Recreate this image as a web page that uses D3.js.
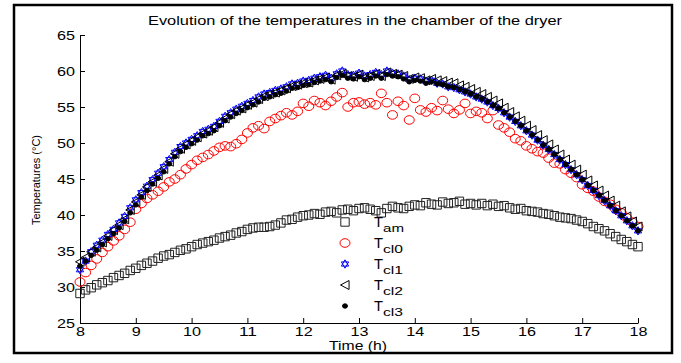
<!DOCTYPE html>
<html>
<head>
<meta charset="utf-8">
<script src="https://cdn.jsdelivr.net/npm/d3@7"></script>
<style>
  body { margin: 0; background: #fff; }
  text { font-family: "Liberation Sans", Arial, sans-serif; fill: #000; }
</style>
</head>
<body>
<div id="chart"></div>
<script>
// sampling times (h)
const times = [
  8.0, 8.1, 8.2, 8.3, 8.4, 8.5, 8.6, 8.7, 8.8, 8.9,
  9.0, 9.1, 9.2, 9.3, 9.4, 9.5, 9.6, 9.7, 9.8, 9.9,
  10.0, 10.1, 10.2, 10.3, 10.4, 10.5, 10.6, 10.7, 10.8, 10.9,
  11.0, 11.1, 11.2, 11.3, 11.4, 11.5, 11.6, 11.7, 11.8, 11.9,
  12.0, 12.1, 12.2, 12.3, 12.4, 12.5, 12.6, 12.7, 12.8, 12.9,
  13.0, 13.1, 13.2, 13.3, 13.4, 13.5, 13.6, 13.7, 13.8, 13.9,
  14.0, 14.1, 14.2, 14.3, 14.4, 14.5, 14.6, 14.7, 14.8, 14.9,
  15.0, 15.1, 15.2, 15.3, 15.4, 15.5, 15.6, 15.7, 15.8, 15.9,
  16.0, 16.1, 16.2, 16.3, 16.4, 16.5, 16.6, 16.7, 16.8, 16.9,
  17.0, 17.1, 17.2, 17.3, 17.4, 17.5, 17.6, 17.7, 17.8, 17.9,
  18.0
];

// ambient temperature
const tAm = [
  29.1, 29.6, 29.9, 30.3, 30.6, 30.9, 31.3, 31.6, 31.9, 32.3,
  32.6, 33.0, 33.3, 33.6, 34.0, 34.3, 34.5, 34.8, 35.1, 35.3,
  35.6, 35.9, 36.1, 36.3, 36.5, 36.8, 37.0, 37.2, 37.5, 37.7,
  38.0, 38.2, 38.3, 38.3, 38.4, 38.6, 38.9, 39.3, 39.4, 39.7,
  39.9, 40.0, 40.2, 40.1, 40.4, 40.5, 40.3, 40.7, 40.8, 40.6,
  40.9, 41.0, 40.8, 40.6, 40.3, 40.9, 41.2, 41.0, 40.9, 41.2,
  41.4, 41.3, 41.7, 41.5, 41.4, 41.8, 41.6, 41.7, 41.9, 41.5,
  41.6, 41.4, 41.6, 41.3, 41.5, 41.2, 41.3, 41.0, 40.8, 40.9,
  40.6, 40.5, 40.4, 40.2, 40.1, 39.9, 39.7, 39.6, 39.5, 39.3,
  39.1, 38.8, 38.4, 38.1, 37.8, 37.4, 37.0, 36.6, 36.3, 35.9,
  35.6
];

const tCl0 = [
  30.7, 32.0, 33.0, 33.9, 34.8, 35.6, 36.4, 37.1, 38.0, 39.0,
  40.8, 41.6, 42.3, 42.8, 43.3, 43.9, 44.6, 45.0, 45.6, 46.4,
  47.0, 47.6, 48.0, 48.4, 48.9, 49.4, 49.6, 49.5, 49.9, 50.5,
  51.4, 52.1, 52.4, 52.0, 53.0, 53.4, 53.8, 54.2, 53.9, 54.4,
  55.5, 55.1, 55.9, 55.6, 55.2, 55.8, 56.4, 57.0, 55.0, 55.6,
  55.7, 55.4, 55.6, 55.3, 56.9, 55.6, 53.9, 55.8, 55.2, 53.2,
  56.2, 54.6, 54.3, 54.9, 54.5, 55.9, 54.7, 54.1, 54.6, 55.5,
  54.1, 54.4, 54.2, 53.4, 54.5, 52.5, 52.1, 51.5, 50.6, 50.3,
  49.6, 49.2, 48.8, 48.6, 47.9, 47.2, 47.1, 46.3, 45.8, 45.2,
  44.2, 43.7, 43.3, 42.5, 41.9, 41.5, 40.8, 40.3, 39.6, 39.0,
  38.4
];

const tCl1 = [
  32.4, 33.6, 34.9, 35.8, 36.5, 37.3, 38.0, 38.9, 39.8, 41.0,
  42.1, 43.1, 44.0, 44.9, 45.8, 46.7, 47.7, 48.7, 49.5, 50.0,
  50.5, 51.0, 51.6, 51.9, 52.3, 53.0, 53.7, 54.2, 54.7, 55.1,
  55.5, 55.9, 56.4, 56.8, 57.0, 57.3, 57.5, 57.8, 58.2, 58.3,
  58.6, 58.7, 59.0, 59.2, 59.4, 59.0, 59.6, 60.0, 59.5, 59.4,
  59.7, 59.3, 59.5, 59.8, 59.5, 60.0, 59.7, 59.6, 59.3, 58.8,
  59.0, 58.9, 58.6, 58.7, 58.3, 58.2, 57.8, 57.7, 57.4, 57.1,
  56.8, 56.4, 56.1, 55.7, 55.2, 54.8, 54.2, 53.6, 53.0, 52.4,
  51.7, 51.1, 50.4, 49.7, 49.1, 48.4, 47.7, 47.0, 46.3, 45.6,
  44.9, 44.1, 43.4, 42.7, 42.0, 41.3, 40.6, 39.9, 39.2, 38.5,
  37.8
];

const tCl2 = [
  33.5, 34.1, 34.9, 35.5, 36.2, 37.1, 37.9, 38.6, 39.4, 40.7,
  41.8, 42.8, 43.9, 44.6, 45.5, 46.4, 47.4, 48.5, 49.2, 49.8,
  50.3, 50.8, 51.3, 51.7, 52.2, 52.8, 53.4, 54.0, 54.5, 54.8,
  55.3, 55.6, 56.1, 56.5, 56.8, 57.0, 57.3, 57.6, 57.9, 58.1,
  58.3, 58.4, 58.7, 58.9, 59.1, 58.8, 59.4, 59.6, 59.3, 59.2,
  59.5, 59.1, 59.3, 59.6, 59.3, 59.8, 59.6, 59.5, 59.3, 58.9,
  59.1, 59.0, 58.7, 58.9, 58.7, 58.6, 58.4, 58.3, 58.0, 57.8,
  57.5, 57.1, 56.8, 56.4, 55.9, 55.5, 54.9, 54.3, 53.7, 53.1,
  52.4, 51.8, 51.1, 50.4, 49.8, 49.1, 48.4, 47.7, 47.0, 46.3,
  45.6, 44.8, 44.1, 43.4, 42.7, 42.0, 41.3, 40.5, 39.8, 39.1,
  38.4
];

const tCl3 = [
  32.9, 33.6, 34.4, 35.1, 35.9, 36.7, 37.4, 38.2, 39.1, 40.3,
  41.4, 42.5, 43.4, 44.3, 45.1, 46.0, 47.1, 48.1, 48.8, 49.4,
  49.9, 50.4, 51.0, 51.3, 51.7, 52.4, 53.1, 53.6, 54.1, 54.5,
  54.9, 55.3, 55.7, 56.2, 56.4, 56.7, 56.9, 57.2, 57.6, 57.7,
  58.0, 58.1, 58.4, 58.6, 58.8, 58.5, 59.1, 59.4, 59.0, 58.9,
  59.2, 58.8, 59.0, 59.3, 59.0, 59.5, 59.3, 59.2, 58.9, 58.5,
  58.7, 58.6, 58.3, 58.5, 58.2, 58.1, 57.8, 57.7, 57.4, 57.1,
  56.8, 56.4, 56.1, 55.7, 55.2, 54.8, 54.2, 53.6, 53.0, 52.4,
  51.7, 51.1, 50.4, 49.7, 49.1, 48.4, 47.7, 47.0, 46.3, 45.6,
  44.9, 44.1, 43.4, 42.7, 42.0, 41.3, 40.6, 39.9, 39.2, 38.5,
  37.8
];

const xTicks = [8, 9, 10, 11, 12, 13, 14, 15, 16, 17, 18];
const yTicks = [25, 30, 35, 40, 45, 50, 55, 60, 65];
const legendSubs = ['am', 'cl0', 'cl1', 'cl2', 'cl3'];

// marker shapes (the original figure is a bit stretched horizontally)
function squarePath(s) { return `M${-s},${-s}H${s}V${s}H${-s}Z`; }
function ellipsePath(rx, ry) { return `M${-rx},0A${rx},${ry} 0 1,0 ${rx},0A${rx},${ry} 0 1,0 ${-rx},0Z`; }
function leftTriPath(s) { return `M${-s},0L${s * 0.9},${-s}L${s * 0.9},${s}Z`; }
function hexagramPath(r) {
  const up = [], down = [];
  for (let k = 0; k < 3; k++) {
    const a1 = -Math.PI / 2 + k * 2 * Math.PI / 3;
    const a2 = Math.PI / 2 + k * 2 * Math.PI / 3;
    up.push([r * Math.cos(a1), r * Math.sin(a1)]);
    down.push([r * Math.cos(a2), r * Math.sin(a2)]);
  }
  const p = pts => 'M' + pts.map(q => q[0].toFixed(2) + ',' + q[1].toFixed(2)).join('L') + 'Z';
  return p(up) + p(down);
}

const series = [
  { values: tAm,  d: squarePath(4.2),       stroke: '#222', fill: 'none' },
  { values: tCl0, d: ellipsePath(5, 4.3),   stroke: '#ff0000', fill: 'none' },
  { values: tCl1, d: hexagramPath(4.2),     stroke: '#0000ff', fill: 'none' },
  { values: tCl2, d: leftTriPath(4.5),      stroke: '#000', fill: 'none' },
  { values: tCl3, d: ellipsePath(2.5, 2.2), stroke: '#000', fill: '#000' }
];

const W = 681, H = 363;
const svg = d3.select('#chart').append('svg')
  .attr('width', W)
  .attr('height', H);

svg.append('rect').attr('width', W).attr('height', H).attr('fill', '#fff');

// outer frame
svg.append('rect')
  .attr('x', 14).attr('y', 5)
  .attr('width', 658).attr('height', 348)
  .attr('fill', 'none')
  .attr('stroke', '#000')
  .attr('stroke-width', 2.5);

// Scales
const x = d3.scaleLinear().domain([8, 18]).range([80, 638]);
const y = d3.scaleLinear().domain([25, 65]).range([323, 35]);

// Axes (ticks pointing inwards, matlab style)
const gx = svg.append('g')
  .attr('transform', `translate(0,${y(25)})`)
  .call(d3.axisBottom(x).tickValues(xTicks).tickSize(-5).tickSizeOuter(0).tickPadding(4));
const gy = svg.append('g')
  .attr('transform', `translate(${x(8)},0)`)
  .call(d3.axisLeft(y).tickValues(yTicks).tickSize(-5).tickSizeOuter(0).tickPadding(5));

[gx, gy].forEach(g => {
  g.selectAll('text')
    .style('font-size', '13px')
    .attr('fill', '#000')
    .attr('lengthAdjust', 'spacingAndGlyphs')
    .attr('textLength', function () { return this.textContent.length * 9; });
  g.selectAll('line, path').attr('stroke', '#000');
});

// Points
series.forEach(s => {
  svg.append('g').selectAll('path')
    .data(s.values)
    .enter()
    .append('path')
    .attr('transform', (v, i) => `translate(${x(times[i])},${y(v)})`)
    .attr('d', s.d)
    .attr('fill', s.fill)
    .attr('stroke', s.stroke)
    .attr('stroke-width', 1);
});

// Legend
const legend = svg.append('g').attr('transform', 'translate(345,222)');
series.forEach((s, i) => {
  const row = legend.append('g').attr('transform', `translate(0,${i * 21})`);
  row.append('path')
    .attr('d', s.d)
    .attr('fill', s.fill)
    .attr('stroke', s.stroke)
    .attr('stroke-width', 1);
  row.append('text').attr('x', 29).attr('y', 4.5)
    .style('font-size', '14px')
    .attr('textLength', 9).attr('lengthAdjust', 'spacingAndGlyphs')
    .text('T');
  row.append('text').attr('x', 38).attr('y', 10)
    .style('font-size', '10.5px')
    .attr('textLength', legendSubs[i].length === 2 ? 21 : 20)
    .attr('lengthAdjust', 'spacingAndGlyphs')
    .text(legendSubs[i]);
});

// Titles
svg.append('text')
  .attr('x', 355).attr('y', 25)
  .attr('text-anchor', 'middle')
  .style('font-size', '13px')
  .attr('textLength', 414).attr('lengthAdjust', 'spacingAndGlyphs')
  .text('Evolution of the temperatures in the chamber of the dryer');

svg.append('text')
  .attr('x', 358).attr('y', 350)
  .attr('text-anchor', 'middle')
  .style('font-size', '12px')
  .attr('textLength', 58).attr('lengthAdjust', 'spacingAndGlyphs')
  .text('Time (h)');

svg.append('text')
  .attr('transform', 'translate(40,180) rotate(-90)')
  .attr('text-anchor', 'middle')
  .style('font-size', '11px')
  .attr('textLength', 90).attr('lengthAdjust', 'spacingAndGlyphs')
  .text('Temperatures (°C)');
</script>
</body>
</html>
